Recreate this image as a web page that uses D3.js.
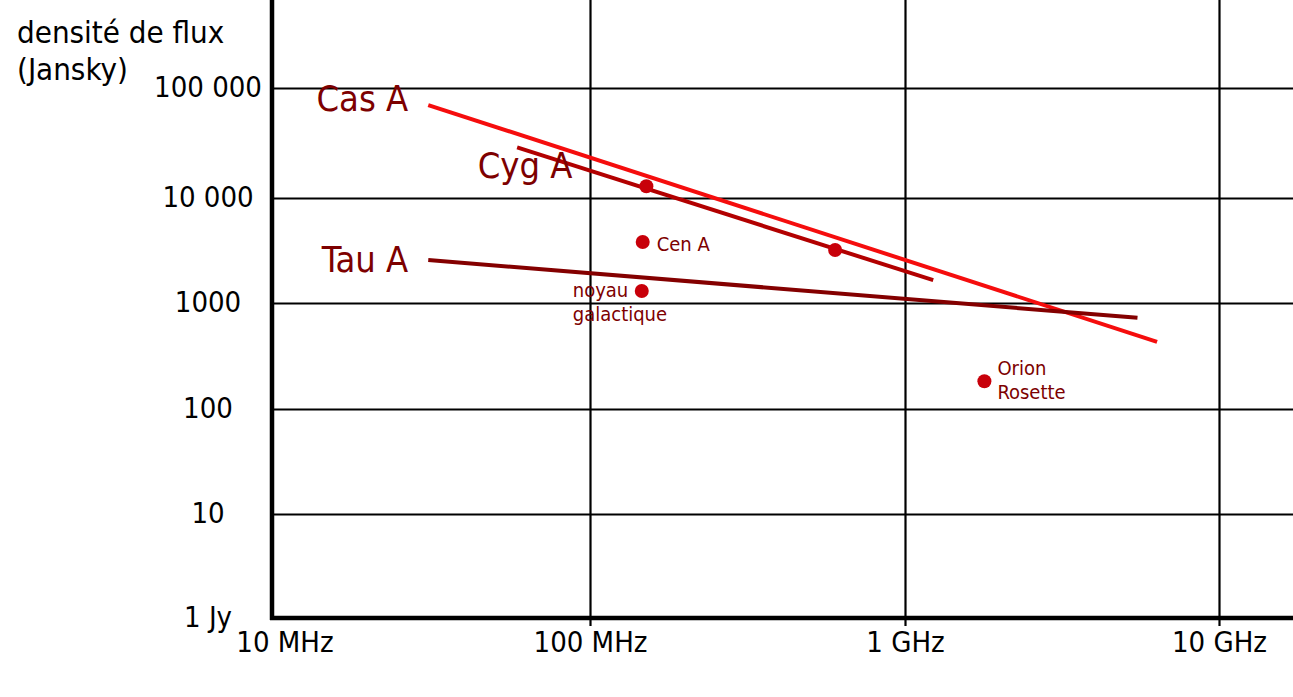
<!DOCTYPE html>
<html>
<head>
<meta charset="utf-8">
<script src="https://cdn.jsdelivr.net/npm/d3@7"></script>
<style>
    body { margin: 0; background: #fff; }
    svg text { font-family: "DejaVu Sans Condensed", "DejaVu Sans", sans-serif; font-stretch: condensed; }
</style>
</head>
<body>
<div id="chart"></div>
<script>

// axis ticks
const freqTicks = [1e7, 1e8, 1e9, 1e10];
const freqTickLabels = ["10 MHz", "100 MHz", "1 GHz", "10 GHz"];
const fluxTicks = [1, 10, 100, 1000, 10000, 100000];
const fluxTickLabels = ["1 Jy", "10", "100", "1000", "10 000", "100 000"];

// spectra (start / end of each line), Hz and Jy
const spectraNames = ["Cas A", "Cyg A", "Tau A"];
const spectraFreq = [[3.1e7, 6.35e9], [5.9e7, 1.23e9], [3.1e7, 5.5e9]];
const spectraFlux = [[70000, 430], [28800, 1650], [2570, 724]];

// single sources
const sourceNames = ["", "", "Cen A", "noyau|galactique", "Orion|Rosette"];
const sourceFreq = [1.51e8, 6.0e8, 1.47e8, 1.46e8, 1.79e9];
const sourceFlux = [12800, 3200, 3810, 1300, 183];

class FluxChart {

    constructor(parentElement) {
        this.parentElement = parentElement;
        this.initVis();
    }

    initVis() {
        let vis = this;

        vis.width = 1293;
        vis.height = 697;

        vis.svg = d3.select("#" + vis.parentElement).append("svg")
            .attr("width", vis.width)
            .attr("height", vis.height);

        // the original grid is hand drawn, so decades are not quite even
        vis.x = d3.scaleLog()
            .domain(freqTicks)
            .range([272, 590, 905, 1219]);
        vis.y = d3.scaleLog()
            .domain(fluxTicks)
            .range([618, 514, 409, 303, 198, 88]);

        vis.drawAxes();
        vis.drawSpectra();
        vis.drawSources();
    }

    drawAxes() {
        let vis = this;
        let bottom = vis.y(1);
        let left = vis.x(1e7);

        // vertical grid + x tick labels
        let xAxis = d3.axisBottom(vis.x)
            .tickValues(freqTicks.slice(1))
            .tickSize(-bottom)
            .tickSizeOuter(0)
            .tickFormat((d) => freqTickLabels[freqTicks.indexOf(d)]);

        let gx = vis.svg.append("g")
            .attr("transform", `translate(0, ${bottom})`)
            .call(xAxis);
        gx.select(".domain").remove();
        gx.selectAll(".tick line")
            .attr("y1", 8)
            .attr("stroke", "#000")
            .attr("stroke-width", 2.2);
        gx.selectAll(".tick text")
            .attr("y", 34)
            .attr("dy", 0)
            .attr("font-size", 29)
            .attr("fill", "#000");

        // first frequency label sits apart from the axis corner
        vis.svg.append("text")
            .attr("x", vis.x(1e7) + 13)
            .attr("y", bottom + 34)
            .attr("text-anchor", "middle")
            .attr("font-size", 29)
            .text(freqTickLabels[0]);

        // horizontal grid + y tick labels
        let yAxis = d3.axisLeft(vis.y)
            .tickValues(fluxTicks)
            .tickSize(left - vis.width)
            .tickSizeOuter(0)
            .tickFormat((d) => fluxTickLabels[fluxTicks.indexOf(d)]);

        let gy = vis.svg.append("g")
            .attr("transform", `translate(${left}, 0)`)
            .call(yAxis);
        gy.select(".domain").remove();
        gy.selectAll(".tick line")
            .attr("stroke", "#000")
            .attr("stroke-width", 2.2);
        gy.selectAll(".tick text")
            .attr("x", -64)
            .attr("dy", 8)
            .attr("text-anchor", "middle")
            .attr("font-size", 29)
            .attr("fill", "#000");

        // thick axis lines
        vis.svg.append("line")
            .attr("x1", left).attr("x2", left)
            .attr("y1", 0).attr("y2", bottom + 2)
            .attr("stroke", "#000").attr("stroke-width", 4.5);
        vis.svg.append("line")
            .attr("x1", left - 2).attr("x2", vis.width)
            .attr("y1", bottom).attr("y2", bottom)
            .attr("stroke", "#000").attr("stroke-width", 4.5);

        // axis title
        vis.svg.append("text")
            .attr("x", 17)
            .attr("y", 43)
            .attr("font-size", 31)
            .attr("fill", "#000")
            .selectAll("tspan")
            .data(["densité de flux", "(Jansky)"])
            .enter()
            .append("tspan")
            .attr("x", 17)
            .attr("dy", (d, i) => i === 0 ? 0 : 37)
            .text(d => d);
    }

    drawSpectra() {
        let vis = this;

        let colors = {"Cas A": "#f50d0d", "Cyg A": "#b20000", "Tau A": "#840000"};

        let spectra = spectraNames.map((name, i) => ({
            name: name,
            points: spectraFreq[i].map((f, j) => [f, spectraFlux[i][j]])
        }));

        let line = d3.line()
            .x(d => vis.x(d[0]))
            .y(d => vis.y(d[1]));

        vis.svg.selectAll(".spectrum")
            .data(spectra)
            .enter()
            .append("path")
            .attr("class", "spectrum")
            .attr("d", d => line(d.points))
            .attr("fill", "none")
            .attr("stroke", d => colors[d.name])
            .attr("stroke-width", 4);

        // big labels, left of the line start (Cyg A sits below its start)
        vis.svg.selectAll(".spectrumLabel")
            .data(spectra)
            .enter()
            .append("text")
            .attr("class", "spectrumLabel")
            .attr("x", d => {
                let x0 = vis.x(d.points[0][0]);
                return d.name === "Cyg A" ? x0 + 8 : x0 - 20;
            })
            .attr("y", d => {
                let y0 = vis.y(d.points[0][1]);
                if (d.name === "Cyg A") return y0 + 31;
                return d.name === "Tau A" ? y0 + 12 : y0 + 6;
            })
            .attr("text-anchor", d => d.name === "Cyg A" ? "middle" : "end")
            .attr("font-size", 36)
            .attr("fill", "#7d0000")
            .text(d => d.name);
    }

    drawSources() {
        let vis = this;

        let sources = sourceNames.map((name, i) => ({
            name: name,
            freq: sourceFreq[i],
            flux: sourceFlux[i]
        }));

        vis.svg.selectAll(".source")
            .data(sources)
            .enter()
            .append("circle")
            .attr("class", "source")
            .attr("cx", d => vis.x(d.freq))
            .attr("cy", d => vis.y(d.flux))
            .attr("r", 7)
            .attr("fill", "#c8000a");

        // where each label sits relative to its dot
        let offsets = {
            "Cen A": {dx: 14, dy: 9, lead: 0},
            "noyau|galactique": {dx: -69, dy: 6, lead: 24},
            "Orion|Rosette": {dx: 13, dy: -6, lead: 24}
        };

        sources.filter(d => d.name !== "").forEach(d => {
            let o = offsets[d.name];
            let cx = vis.x(d.freq);
            let cy = vis.y(d.flux);
            vis.svg.append("text")
                .attr("y", cy + o.dy)
                .attr("font-size", 20)
                .attr("fill", "#7d0000")
                .selectAll("tspan")
                .data(d.name.split("|"))
                .enter()
                .append("tspan")
                .attr("x", cx + o.dx)
                .attr("dy", (t, i) => i === 0 ? 0 : o.lead)
                .text(t => t);
        });
    }
}

new FluxChart("chart");

</script>
</body>
</html>
